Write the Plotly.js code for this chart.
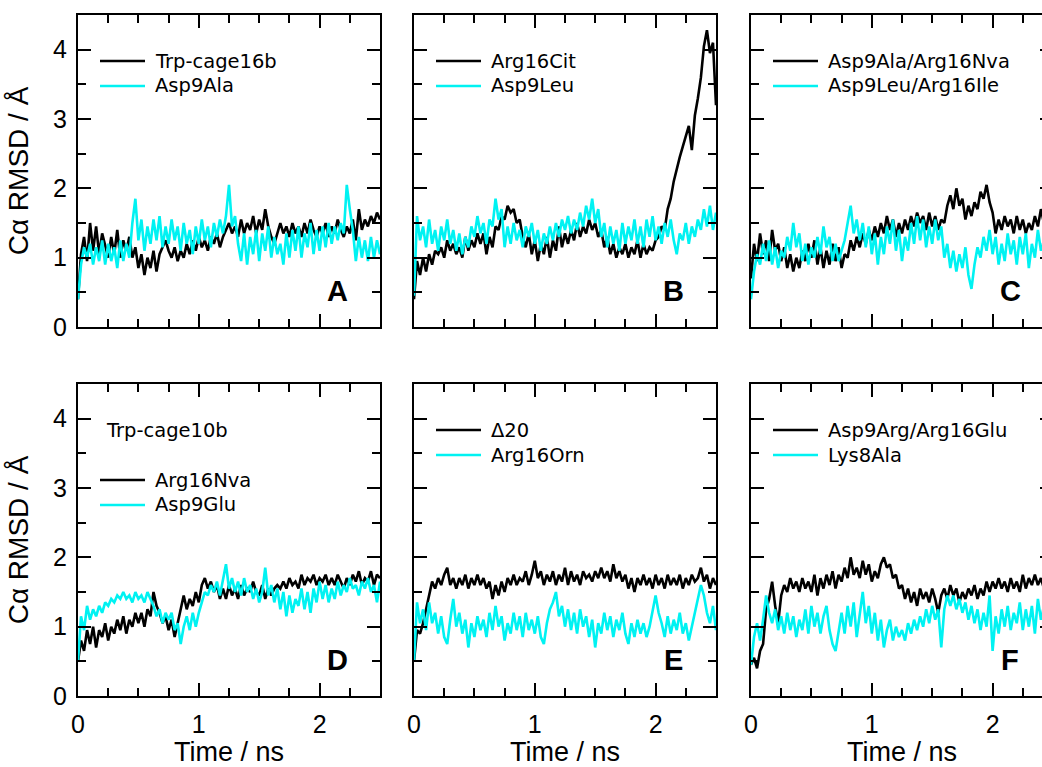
<!DOCTYPE html>
<html>
<head>
<meta charset="utf-8">
<script src="https://cdn.plot.ly/plotly-3.0.1.min.js"></script>
<style>
html,body{margin:0;padding:0;overflow:hidden;background:#fff;}
#chart{width:1060px;height:767px;}
</style>
</head>
<body>
<div id="chart"></div>
<script>
// ---------------- data (Cα RMSD in Å, sampled every 0.025 ns) ----------------
const timeStepNs = 0.025;
const time = Array.from({length: 101}, (_, i) => +(i * timeStepNs).toFixed(3));

const seriesNamesA = ['Trp-cage16b', 'Asp9Ala'];
const seriesNamesB = ['Arg16Cit', 'Asp9Leu'];
const seriesNamesC = ['Asp9Ala/Arg16Nva', 'Asp9Leu/Arg16Ile'];
const seriesNamesD = ['Arg16Nva', 'Asp9Glu'];
const seriesNamesE = ['Δ20', 'Arg16Orn'];
const seriesNamesF = ['Asp9Arg/Arg16Glu', 'Lys8Ala'];
const panelLetters = ['A', 'B', 'C', 'D', 'E', 'F'];
const panelDHeader = 'Trp-cage10b';

const rmsdTrpcage16b = [0.40,1.05,1.30,0.95,1.50,1.10,1.45,1.05,1.35,1.15,
1.00,1.30,1.05,1.40,1.00,1.25,1.10,1.30,1.00,1.15,
0.85,1.05,0.75,1.00,0.85,1.10,0.80,1.05,1.15,1.25,
1.10,1.00,1.15,0.95,1.10,1.00,1.20,1.05,1.25,1.10,
1.30,1.15,1.25,1.10,1.30,1.20,1.35,1.15,1.30,1.40,
1.50,1.35,1.45,1.30,1.55,1.35,1.50,1.40,1.60,1.35,
1.55,1.40,1.70,1.45,1.30,1.20,1.35,1.50,1.35,1.45,
1.30,1.50,1.35,1.45,1.30,1.50,1.35,1.55,1.40,1.30,
1.45,1.35,1.50,1.30,1.45,1.35,1.55,1.40,1.30,1.45,
1.35,1.55,1.25,1.70,1.40,1.55,1.45,1.60,1.50,1.65,
1.55];
const rmsdAsp9Ala = [0.40,0.90,1.15,1.00,1.20,0.90,1.15,0.95,1.25,0.90,
1.20,0.95,1.15,0.85,1.25,0.95,1.20,1.00,1.50,1.85,
1.25,1.55,1.10,1.45,1.20,1.55,1.25,1.60,1.15,1.45,
1.20,1.55,1.25,1.45,1.10,1.50,1.20,1.40,1.05,1.45,
1.20,1.55,1.25,1.45,1.15,1.50,1.30,1.55,1.35,1.60,
2.05,1.45,1.60,1.20,0.95,1.35,0.90,1.30,1.05,1.40,
0.95,1.35,1.10,1.45,1.00,1.30,1.05,1.20,0.90,1.35,
1.00,1.40,1.10,1.45,1.00,1.35,1.15,1.50,1.05,1.40,
1.10,1.45,1.15,1.50,1.20,1.45,1.25,1.50,1.35,2.05,
1.70,1.40,0.95,1.30,1.00,1.25,0.95,1.30,1.00,1.25,
1.05];

const rmsdArg16Cit = [0.40,0.95,0.75,1.00,0.80,1.05,0.90,1.10,1.05,1.15,
1.00,1.25,1.10,1.20,1.05,1.15,1.00,1.30,1.10,1.25,
1.15,1.35,1.20,1.35,1.05,1.30,1.15,1.45,1.40,1.60,
1.55,1.75,1.65,1.70,1.50,1.55,1.30,1.15,1.35,1.05,
1.25,0.95,1.20,1.05,1.30,1.00,1.25,1.10,1.45,1.15,
1.35,1.20,1.40,1.25,1.50,1.30,1.45,1.35,1.55,1.40,
1.50,1.30,1.40,1.15,1.30,1.05,1.20,1.00,1.15,1.05,
1.20,1.00,1.15,1.05,1.25,1.00,1.20,1.05,1.15,1.10,
1.25,1.30,1.45,1.40,1.70,1.85,2.10,2.30,2.45,2.60,
2.75,2.90,2.55,3.05,3.30,3.60,4.05,4.28,3.95,4.10,
3.20];
const rmsdAsp9Leu = [0.45,1.60,1.25,1.45,1.15,1.55,1.20,1.40,1.10,1.45,
1.25,1.55,1.20,1.40,1.10,1.35,1.05,1.30,1.15,1.45,
1.30,1.60,1.35,1.50,1.20,1.55,1.45,1.85,1.55,1.70,
1.15,1.45,1.20,1.50,1.25,1.40,1.15,1.45,1.30,1.50,
1.20,1.40,1.10,1.35,1.20,1.45,1.25,1.50,1.30,1.55,
1.40,1.60,1.35,1.55,1.40,1.65,1.45,1.75,1.55,1.85,
1.50,1.70,1.30,1.50,1.15,1.45,1.20,1.40,1.10,1.50,
1.20,1.45,1.25,1.55,1.20,1.45,1.15,1.55,1.30,1.60,
1.25,1.45,1.20,1.50,1.30,1.55,1.25,1.05,1.35,1.25,
1.50,1.20,1.45,1.30,1.55,1.40,1.70,1.45,1.75,1.40,
1.65];

const rmsdAsp9AlaArg16Nva = [0.70,1.20,0.95,1.35,1.05,1.25,0.95,1.40,1.10,1.20,
0.95,1.15,0.85,1.05,0.80,1.00,0.85,1.10,0.95,1.20,
1.00,1.25,0.90,1.15,0.85,1.10,0.90,1.20,0.95,1.15,
0.85,1.05,1.00,1.25,1.10,1.30,1.15,1.35,1.20,1.40,
1.25,1.45,1.30,1.50,1.35,1.60,1.40,1.55,1.30,1.50,
1.35,1.55,1.40,1.60,1.45,1.65,1.50,1.60,1.40,1.65,
1.45,1.60,1.40,1.55,1.50,1.75,1.90,1.70,2.00,1.75,
1.85,1.55,1.75,1.60,1.80,1.70,1.95,1.85,2.05,1.80,
1.65,1.35,1.55,1.40,1.60,1.45,1.55,1.35,1.60,1.40,
1.55,1.35,1.50,1.40,1.60,1.45,1.70,1.50,1.65,1.45,
1.60];
const rmsdAsp9LeuArg16Ile = [0.40,0.80,1.05,0.90,1.20,0.95,1.25,0.90,1.15,0.85,
1.10,1.00,1.30,1.10,1.50,1.15,1.35,0.95,1.20,0.90,
1.15,1.00,1.30,1.05,1.45,1.15,1.30,0.95,1.20,0.95,
1.10,1.25,1.50,1.75,1.35,1.55,1.25,1.50,1.15,1.45,
1.05,1.35,0.90,1.30,1.05,1.45,1.20,1.55,1.10,1.40,
0.95,1.30,1.10,1.50,1.20,1.60,1.25,1.55,1.15,1.45,
1.20,1.55,1.25,1.45,1.00,1.20,0.85,1.10,0.80,1.05,
0.85,1.15,0.75,0.55,0.90,1.15,1.00,1.30,1.10,1.40,
1.05,1.30,0.90,1.20,0.95,1.35,1.05,1.25,0.90,1.30,
1.05,1.35,0.85,1.20,1.00,1.40,1.10,1.25,0.95,1.30,
1.10];

const rmsdArg16Nva = [0.50,0.80,0.65,0.95,0.75,1.00,0.70,0.95,0.85,1.05,
0.80,1.00,0.90,1.10,0.95,1.15,0.90,1.10,1.00,1.20,
1.05,1.20,1.00,1.25,1.15,1.50,1.30,1.20,1.05,1.15,
0.95,1.10,0.85,1.05,1.30,1.45,1.25,1.40,1.30,1.50,
1.35,1.60,1.70,1.55,1.65,1.50,1.60,1.40,1.55,1.40,
1.60,1.45,1.55,1.40,1.60,1.45,1.55,1.50,1.65,1.50,
1.45,1.60,1.40,1.55,1.45,1.55,1.60,1.55,1.65,1.55,
1.70,1.60,1.65,1.55,1.75,1.60,1.70,1.65,1.75,1.60,
1.70,1.65,1.75,1.60,1.70,1.60,1.75,1.65,1.55,1.70,
1.60,1.75,1.65,1.80,1.60,1.70,1.65,1.80,1.60,1.75,
1.70];
const rmsdAsp9Glu = [0.50,1.15,0.95,1.30,1.10,1.25,1.15,1.30,1.20,1.35,
1.30,1.40,1.35,1.45,1.40,1.50,1.40,1.45,1.35,1.50,
1.40,1.45,1.35,1.50,1.40,1.30,1.15,1.25,1.05,1.20,
1.10,1.20,0.95,1.05,0.75,1.00,1.15,0.95,1.20,1.00,
1.20,1.35,1.50,1.45,1.60,1.50,1.65,1.45,1.70,1.90,
1.55,1.70,1.50,1.65,1.45,1.70,1.50,1.60,1.40,1.55,
1.35,1.50,1.85,1.45,1.60,1.35,1.55,1.25,1.50,1.15,
1.45,1.20,1.40,1.30,1.55,1.25,1.50,1.20,1.55,1.35,
1.65,1.40,1.60,1.35,1.55,1.40,1.65,1.45,1.60,1.50,
1.70,1.55,1.60,1.45,1.65,1.55,1.70,1.50,1.60,1.35,
1.65];

const rmsdDelta20 = [0.50,0.95,0.90,1.05,1.25,1.45,1.65,1.55,1.70,1.60,
1.75,1.85,1.60,1.70,1.55,1.70,1.60,1.75,1.55,1.70,
1.60,1.75,1.60,1.70,1.55,1.65,1.40,1.60,1.45,1.65,
1.50,1.70,1.60,1.75,1.60,1.70,1.65,1.80,1.60,1.75,
1.95,1.70,1.80,1.60,1.75,1.65,1.80,1.60,1.75,1.65,
1.85,1.60,1.80,1.65,1.75,1.60,1.80,1.70,1.75,1.65,
1.80,1.70,1.85,1.70,1.80,1.65,1.90,1.70,1.80,1.65,
1.75,1.55,1.70,1.50,1.70,1.60,1.75,1.60,1.70,1.55,
1.75,1.60,1.70,1.55,1.75,1.60,1.70,1.60,1.75,1.55,
1.70,1.60,1.75,1.65,1.70,1.85,1.65,1.75,1.55,1.70,
1.60];
const rmsdArg16Orn = [0.50,1.35,1.05,1.25,0.95,1.35,1.05,1.20,0.90,1.15,
0.85,0.75,1.10,1.40,1.00,1.20,0.90,1.10,0.70,1.05,
0.85,1.15,0.95,1.10,0.85,1.20,0.95,1.30,1.00,1.15,
0.80,1.05,0.90,1.20,0.95,1.15,0.85,1.20,0.95,1.10,
0.90,1.15,0.85,0.75,1.05,1.25,1.35,1.50,1.15,1.30,
1.00,1.25,0.95,1.20,0.90,1.25,1.00,1.15,0.85,1.10,
0.70,1.05,0.90,1.20,0.95,1.15,0.85,1.10,0.95,1.20,
0.90,0.75,1.05,0.85,1.10,0.90,1.05,0.85,1.00,1.20,
1.45,1.20,1.05,0.85,1.15,0.90,1.10,0.95,1.20,0.90,
1.05,0.80,1.00,1.20,1.35,1.60,1.45,1.20,1.05,1.30,
0.95];

const rmsdAsp9ArgArg16Glu = [0.45,0.55,0.40,0.65,0.75,1.25,1.40,1.65,1.30,1.05,
1.45,1.60,1.50,1.70,1.55,1.65,1.50,1.70,1.55,1.65,
1.50,1.75,1.45,1.70,1.55,1.75,1.60,1.80,1.55,1.75,
1.65,1.85,1.70,2.00,1.75,1.85,1.70,1.95,1.75,1.90,
1.65,1.80,1.70,1.90,2.00,1.85,1.90,1.70,1.75,1.55,
1.60,1.40,1.55,1.35,1.50,1.30,1.55,1.40,1.50,1.35,
1.55,1.40,1.20,1.45,1.55,1.40,1.60,1.45,1.55,1.35,
1.50,1.40,1.55,1.45,1.60,1.40,1.55,1.45,1.65,1.50,
1.65,1.55,1.70,1.55,1.65,1.50,1.70,1.55,1.65,1.50,
1.75,1.55,1.70,1.60,1.75,1.60,1.70,1.55,1.75,1.60,
1.70];
const rmsdLys8Ala = [0.45,0.85,1.05,0.80,1.10,1.45,1.20,1.05,1.25,0.95,
1.15,0.90,1.20,0.95,1.15,0.85,1.10,0.95,1.25,0.90,
1.30,1.00,1.20,0.90,1.15,1.30,0.95,0.75,0.65,0.95,
1.20,0.90,1.30,1.00,1.35,0.85,1.20,1.50,1.05,1.30,
0.90,1.20,0.80,1.10,0.70,0.95,1.10,0.80,1.00,0.85,
0.95,0.80,1.05,0.90,1.10,0.95,1.15,1.00,1.25,1.05,
1.30,1.10,1.25,0.70,1.25,1.45,1.30,1.45,1.25,1.40,
1.20,1.35,1.10,1.30,1.05,1.25,0.95,1.20,1.00,1.45,
0.65,1.15,0.90,1.25,1.00,1.30,0.95,1.20,1.05,1.35,
0.95,1.25,1.00,1.30,0.90,1.40,1.10,1.30,0.95,1.20,
1.05];

// ---------------- layout geometry ----------------
const W = 1060, H = 767;
const colLeft = [78, 414, 751];      // px
const plotW = 302;
const rowTop = [15, 384];            // px
const plotH = 312;
const px = x => x / W;
const py = y => 1 - y / H;

const BLACK = '#000000';
const CYAN = '#00f2f2';
const FONT = 'Liberation Sans, Arial, Helvetica, sans-serif';
const LEGFONT = 'DejaVu Sans, Verdana, sans-serif';

const panelData = [
  {names: seriesNamesA, ys: [rmsdTrpcage16b, rmsdAsp9Ala]},
  {names: seriesNamesB, ys: [rmsdArg16Cit, rmsdAsp9Leu]},
  {names: seriesNamesC, ys: [rmsdAsp9AlaArg16Nva, rmsdAsp9LeuArg16Ile]},
  {names: seriesNamesD, ys: [rmsdArg16Nva, rmsdAsp9Glu]},
  {names: seriesNamesE, ys: [rmsdDelta20, rmsdArg16Orn]},
  {names: seriesNamesF, ys: [rmsdAsp9ArgArg16Glu, rmsdLys8Ala]}
];

const traces = [];
const layout = {
  width: W, height: H,
  margin: {l: 0, r: 0, t: 0, b: 0},
  paper_bgcolor: '#ffffff', plot_bgcolor: '#ffffff',
  showlegend: false,
  font: {family: FONT, color: '#000', size: 24},
  shapes: [], annotations: []
};

panelData.forEach((p, i) => {
  const row = Math.floor(i / 3), col = i % 3;
  const sfx = i === 0 ? '' : String(i + 1);
  const left = colLeft[col], top = rowTop[row];
  const right = left + plotW, bottom = top + plotH;

  p.ys.forEach((ys, k) => {
    traces.push({
      type: 'scatter', mode: 'lines', x: time, y: ys, name: p.names[k],
      xaxis: 'x' + sfx, yaxis: 'y' + sfx,
      line: {color: k === 0 ? BLACK : CYAN, width: 2.6}
    });
  });

  const common = {
    showline: true, linewidth: 2, linecolor: '#000', mirror: 'allticks',
    ticks: 'inside', ticklen: 13, tickwidth: 2, tickcolor: '#000',
    showgrid: false, zeroline: false, fixedrange: true, automargin: false,
    tickfont: {family: FONT, size: 25, color: '#000'}
  };
  layout['xaxis' + sfx] = Object.assign({}, common, {
    domain: [px(left), px(right)], anchor: 'y' + sfx,
    range: [0, 2.5], tick0: 0, dtick: 1,
    minor: {dtick: 0.25, ticks: 'inside', ticklen: 8, tickwidth: 2, tickcolor: '#000'},
    showticklabels: row === 1,
    ticklabelstandoff: 5,
    title: row === 1 ? {text: 'Time / ns', font: {family: FONT, size: 27}, standoff: 9} : {text: ''}
  });
  layout['yaxis' + sfx] = Object.assign({}, common, {
    domain: [py(bottom), py(top)], anchor: 'x' + sfx,
    range: [0, 4.5], tick0: 0, dtick: 1,
    minor: {dtick: 0.5, ticks: 'inside', ticklen: 8, tickwidth: 2, tickcolor: '#000'},
    showticklabels: col === 0,
    ticklabelstandoff: 4,
    title: col === 0 ? {text: 'Cα RMSD / Å', font: {family: FONT, size: 28}, standoff: 16} : {text: ''}
  });

  // legend keys (line samples) and labels
  const legRows = (i === 3) ? [top + 96, top + 121] : [top + 46, top + 71];
  if (i === 3) {
    layout.annotations.push({
      xref: 'paper', yref: 'paper', x: px(left + 26), y: py(top + 46),
      xanchor: 'left', yanchor: 'middle', showarrow: false,
      text: panelDHeader, font: {family: LEGFONT, size: 19.5, color: '#000'}
    });
  }
  p.names.forEach((nm, k) => {
    layout.shapes.push({
      type: 'line', xref: 'paper', yref: 'paper',
      x0: px(left + 22), x1: px(left + 67), y0: py(legRows[k]), y1: py(legRows[k]),
      line: {color: k === 0 ? BLACK : CYAN, width: 2.4}
    });
    layout.annotations.push({
      xref: 'paper', yref: 'paper', x: px(left + 75), y: py(legRows[k]),
      xanchor: 'left', yanchor: 'middle', showarrow: false,
      text: nm, font: {family: LEGFONT, size: 19.5, color: '#000'}
    });
  });

  // panel letter
  layout.annotations.push({
    xref: 'paper', yref: 'paper', x: px(right - 43), y: py(bottom - 36),
    xanchor: 'center', yanchor: 'middle', showarrow: false,
    text: '<b>' + panelLetters[i] + '</b>', font: {family: FONT, size: 29, color: '#000'}
  });
});

Plotly.newPlot('chart', traces, layout, {staticPlot: true, displayModeBar: false});
</script>
</body>
</html>
